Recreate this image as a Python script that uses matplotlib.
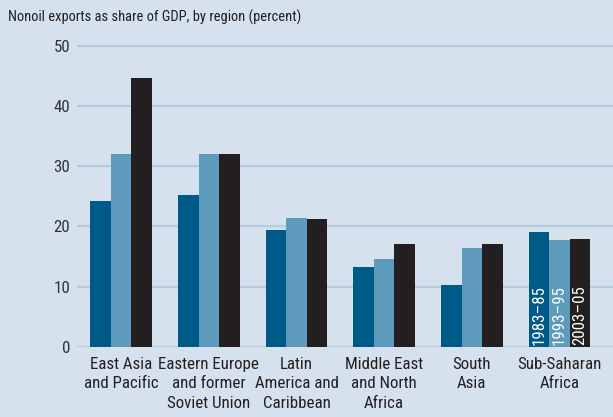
import matplotlib
matplotlib.use("Agg")
import matplotlib.pyplot as plt
from matplotlib import font_manager
import numpy as np

regions = ["East Asia\nand Pacific", "Eastern Europe\nand former\nSoviet Union",
           "Latin\nAmerica and\nCaribbean", "Middle East\nand North\nAfrica",
           "South\nAsia", "Sub-Saharan\nAfrica"]
periods = ["1983\u201385", "1993\u201395", "2003\u201305"]
v_1983 = [24.2, 25.3, 19.4, 13.3, 10.3, 19.1]
v_1993 = [32.0, 32.0, 21.4, 14.6, 16.4, 17.8]
v_2003 = [44.7, 32.0, 21.2, 17.1, 17.1, 17.9]
yticks = [0, 10, 20, 30, 40, 50]

colors = ["#005a87", "#5d9abb", "#231f20"]
bg = "#d5e1ed"
grid_c = "#b5cde1"

# look for a condensed face; fall back to an Arial-like one set a bit smaller
fam, stretch, scale = "Liberation Sans", "normal", 0.86
for cand, st, sc in [("Roboto Condensed", "normal", 0.97),
                     ("Liberation Sans Narrow", "normal", 1.0),
                     ("DejaVu Sans", "condensed", 0.9)]:
    try:
        path = font_manager.findfont(font_manager.FontProperties(family=cand, stretch=st),
                                     fallback_to_default=False)
    except ValueError:
        continue
    if st == "condensed" and "Condensed" not in path:
        continue
    fam, stretch, scale = cand, st, sc
    break
plt.rcParams['font.family'] = [fam, 'DejaVu Sans']
plt.rcParams['font.stretch'] = stretch
ls = 1.33 / scale

fig = plt.figure(figsize=(6.13, 4.17), dpi=100, facecolor=bg)
ax = fig.add_axes([0.1256, 0.169, 0.8744, 0.7268])
ax.set_facecolor(bg)

x = np.arange(len(regions))
w = 0.234
series = [v_1983, v_1993, v_2003]
for i, vals in enumerate(series):
    ax.bar(x + (i - 1) * w, vals, width=w, color=colors[i], zorder=3)
    # period labels inside the last group
    ax.text(x[-1] + (i - 1) * w, 0.3, periods[i], rotation=90, color="white",
            ha="center", va="bottom", fontsize=12.5 * scale, zorder=4)

ax.set_xlim(-0.504, 5.61)
ax.set_ylim(0, 50.5)
ax.set_yticks(yticks)
ax.set_xticks(x)
ax.set_xticklabels(regions, fontsize=12.5 * scale, color="#231f20", linespacing=ls)
ax.tick_params(axis="both", length=0, colors="#231f20", labelsize=12.5 * scale)
ax.tick_params(axis="y", pad=5)
ax.tick_params(axis="x", pad=7.5)
for lbl in ax.get_yticklabels():
    lbl.set_color("#333333")
ax.grid(axis="y", color=grid_c, linewidth=1.6, zorder=0)
for s in ax.spines.values():
    s.set_visible(False)

fig.text(0.013, 0.958, "Nonoil exports as share of GDP, by region (percent)",
         fontsize=10.8 * scale, color="#231f20", ha="left", va="center")

fig.savefig("out.png", dpi=100, facecolor=bg)
